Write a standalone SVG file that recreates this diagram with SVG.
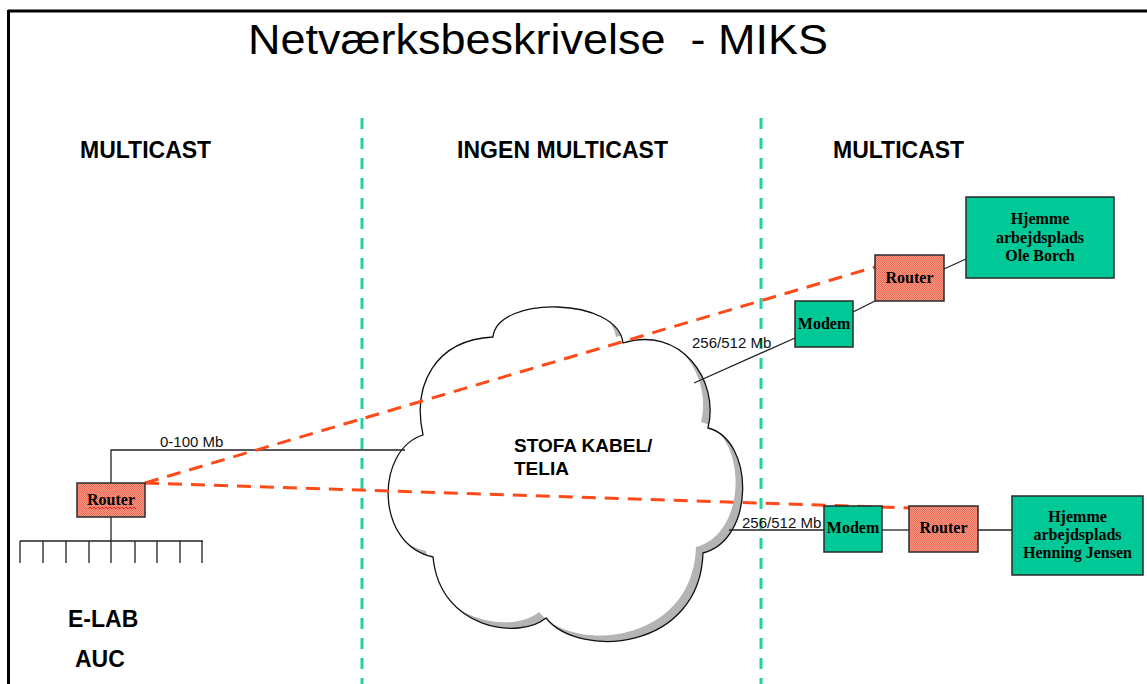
<svg xmlns="http://www.w3.org/2000/svg" width="1147" height="684" viewBox="0 0 1147 684">
<style>
.sec{font-family:"Liberation Sans",Arial,sans-serif;font-weight:bold;font-size:23px;fill:#000}
.lbl{font-family:"Liberation Sans",Arial,sans-serif;font-size:15px;fill:#111}
.box{font-family:"Liberation Serif","Times New Roman",serif;font-weight:bold;font-size:16px;fill:#000;text-anchor:middle}
.green{fill:#00c896;stroke:#2a2a2a;stroke-width:1.5}
.router{fill:url(#hatch);stroke:#2a2a2a;stroke-width:1.5}
.wire{stroke:#222;stroke-width:1.3;fill:none}
.red{stroke:#ff4a1a;stroke-width:3;stroke-dasharray:14 9;fill:none}
.teal{stroke:#1ed3a0;stroke-width:3;stroke-dasharray:11 9;fill:none}
</style>
<defs>
<pattern id="hatch" width="2" height="2" patternUnits="userSpaceOnUse">
<rect width="2" height="2" fill="#f79a86"/>
<rect width="1" height="1" fill="#ec6a55"/>
<rect x="1" y="1" width="1" height="1" fill="#ec6a55"/>
</pattern>
<path id="cloudPath" d="M493,337 C497,295 618,297 623,343 C680,325 720,380 708,428 C755,440 755,540 703,553 C700,650 580,660 546,618 C520,640 440,630 433,557 C375,545 375,450 423,435 C412,385 435,340 493,337 Z"/>
<clipPath id="cloudClip"><use href="#cloudPath"/></clipPath>
</defs>
<rect width="1147" height="684" fill="#fff"/>
<g id="frame">
<line x1="8" y1="11" x2="1147" y2="11" stroke="#000" stroke-width="3"/>
<line x1="8.5" y1="10" x2="8.5" y2="684" stroke="#000" stroke-width="3"/>
</g>
<text x="248" y="54" xml:space="preserve" font-family="'Liberation Sans',Arial,sans-serif" font-size="43" textLength="580" lengthAdjust="spacingAndGlyphs">Netværksbeskrivelse  - MIKS</text>
<g id="zones">
<line class="teal" x1="362" y1="118" x2="362" y2="684"/>
<line class="teal" x1="761" y1="118" x2="761" y2="684"/>
<text class="sec" x="80" y="158">MULTICAST</text>
<text class="sec" x="457" y="158" textLength="211">INGEN MULTICAST</text>
<text class="sec" x="833" y="158">MULTICAST</text>
</g>
<g id="cloud">
<use href="#cloudPath" fill="#b4b4b4"/>
<g clip-path="url(#cloudClip)"><use href="#cloudPath" fill="#fff" transform="translate(-7,-6)"/></g>
<use href="#cloudPath" fill="none" stroke="#111" stroke-width="1.3"/>
<text x="514" y="452" font-family="'Liberation Sans',Arial,sans-serif" font-weight="bold" font-size="19">STOFA KABEL/</text>
<text x="514" y="475" font-family="'Liberation Sans',Arial,sans-serif" font-weight="bold" font-size="19">TELIA</text>
</g>
<g id="connectors">
<polyline class="wire" points="111,483 111,450 405,450"/>
<line class="wire" x1="111" y1="517" x2="111" y2="541"/>
<line class="wire" x1="20" y1="541" x2="203" y2="541"/>
<path class="wire" d="M20,541V563M43,541V563M66,541V563M89,541V563M111,541V563M135,541V563M157,541V563M180,541V563M202,541V563"/>
<line class="wire" x1="694" y1="383" x2="795" y2="338"/>
<line class="wire" x1="853" y1="312" x2="875" y2="301"/>
<line class="wire" x1="944" y1="269" x2="966" y2="259"/>
<line class="wire" x1="729" y1="530" x2="824" y2="530"/>
<line class="wire" x1="882" y1="530" x2="909" y2="530"/>
<line class="wire" x1="978" y1="530" x2="1012" y2="530"/>
<line class="red" x1="145" y1="483" x2="875" y2="267"/>
<line class="red" x1="145" y1="483" x2="909" y2="508"/>
<text class="lbl" x="160" y="447">0-100 Mb</text>
<text class="lbl" x="692" y="348">256/512 Mb</text>
<text class="lbl" x="742" y="528">256/512 Mb</text>
</g>
<g id="router-left">
<rect class="router" x="77" y="483" width="68" height="34"/>
<text class="box" x="111" y="505" font-size="15">Router</text>
<path d="M88,509 l2,-2 l2,2 l2,-2 l2,2 l2,-2 l2,2 l2,-2 l2,2 l2,-2 l2,2 l2,-2 l2,2 l2,-2 l2,2 l2,-2 l2,2 l2,-2 l2,2 l2,-2 l2,2 l2,-2 l2,2 l2,-2 l2,2" fill="none" stroke="#e02020" stroke-width="0.9"/>
</g>
<g id="elab">
<text class="sec" x="68" y="627" font-size="22">E-LAB</text>
<text class="sec" x="75" y="667" font-size="22">AUC</text>
</g>
<g id="modem-top">
<rect class="green" x="795" y="301" width="58" height="46"/>
<text class="box" x="824" y="329">Modem</text>
</g>
<g id="router-top">
<rect class="router" x="875" y="255" width="69" height="46"/>
<text class="box" x="909.5" y="283">Router</text>
</g>
<g id="home-ole">
<rect class="green" x="966" y="197" width="148" height="81"/>
<text class="box" x="1040" y="224" font-size="15.5">Hjemme</text>
<text class="box" x="1040" y="243" font-size="15.5">arbejdsplads</text>
<text class="box" x="1040" y="261" font-size="15.5">Ole Borch</text>
</g>
<g id="modem-bottom">
<rect class="green" x="824" y="506" width="58" height="46"/>
<text class="box" x="853" y="533">Modem</text>
</g>
<g id="router-bottom">
<rect class="router" x="909" y="506" width="69" height="46"/>
<text class="box" x="943.5" y="533">Router</text>
</g>
<g id="home-henning">
<rect class="green" x="1012" y="496" width="131" height="79"/>
<text class="box" x="1077.5" y="522" font-size="15.5">Hjemme</text>
<text class="box" x="1077.5" y="540" font-size="15.5">arbejdsplads</text>
<text class="box" x="1077.5" y="558" font-size="15.5">Henning Jensen</text>
</g>
</svg>
